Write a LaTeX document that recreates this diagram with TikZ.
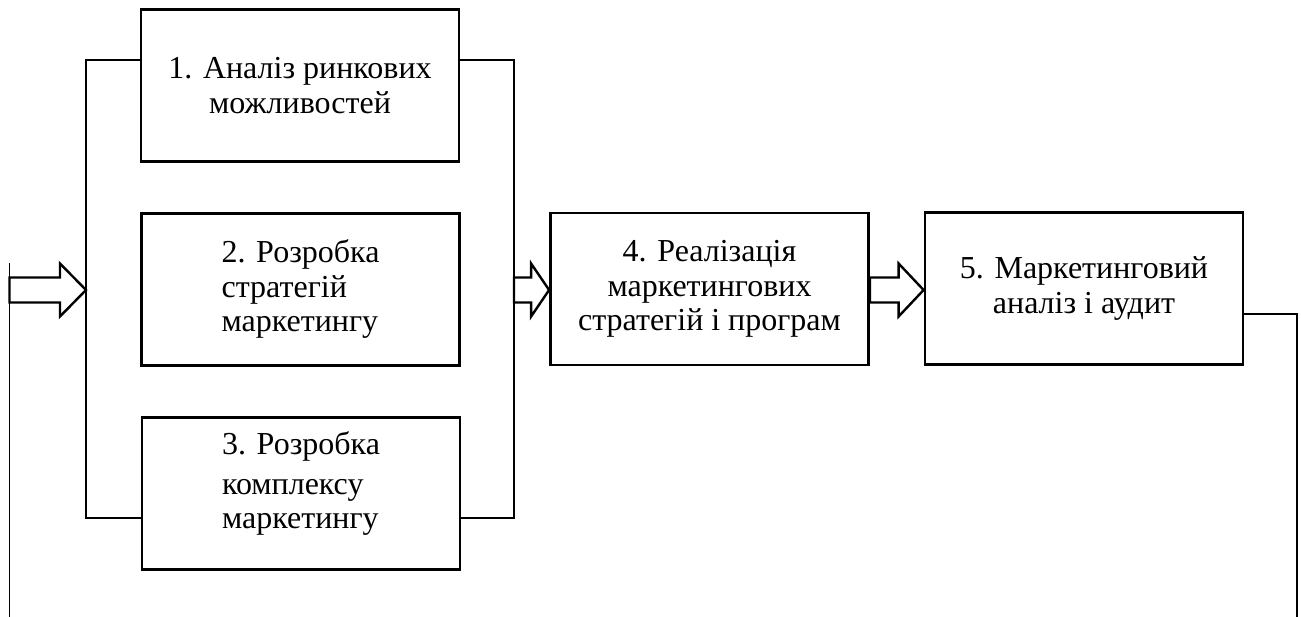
\documentclass[tikz,border=0pt]{standalone}
\usepackage{fontspec}
\setmainfont{Liberation Serif}
\usetikzlibrary{calc}
\tikzset{
  blk/.style={draw=black, line width=2.8pt, minimum width=318pt, minimum height=152pt,
    inner sep=0pt, align=center, font=\fontsize{32}{34.5}\selectfont},
  blkl/.style={blk, align=left},
  txt/.style={inner sep=0pt, align=left, font=\fontsize{32}{34.5}\selectfont},
  brk/.style={draw=black, line width=2.2pt},
  fb/.style={draw=black, line width=1.8pt},
  fbthin/.style={draw=black, line width=1.2pt},
  harrow/.style={draw=black, line width=2.4pt, line join=miter, fill=white}
}
\newcommand{\hollowarrow}[3]{%
  \path[harrow] let \p1=(#1), \p2=(#2) in
    (\x1,\y2+12.5pt) -- (\x2-#3,\y2+12.5pt) -- (\x2-#3,\y2+26.5pt) -- (\x2,\y2)
    -- (\x2-#3,\y2-26.5pt) -- (\x2-#3,\y2-12.5pt) -- (\x1,\y2-12.5pt) -- cycle;}
\begin{document}
\begin{tikzpicture}[x=1pt,y=-1pt]
  \useasboundingbox (0,0) rectangle (1301,617);
  \node[blk]  (b1) at (300,85.5)   {1. Аналіз ринкових\\можливостей};
  \node[blkl] (b2) at (300.5,289.5) {2. Розробка\\стратегій\\маркетингу};
  \node[blk]  (b3) at (301,493.5)  {};
  \node[txt]  (t3) at ($(b3.center)+(0,-10)$) {3. Розробка\\[5pt]комплексу\\маркетингу};
  \node[blk]  (b4) at (709.5,289)  {4. Реалізація\\маркетингових\\стратегій і програм};
  \node[blk]  (b5) at (1084,288.5) {5. Маркетинговий\\аналіз і аудит};
  \coordinate (lt) at (86,60);
  \coordinate (lb) at (86,518);
  \coordinate (rt) at (514,60);
  \coordinate (rb) at (514,518);
  \coordinate (m) at (86,290);
  \coordinate (ftop) at (9.5,263);
  \coordinate (fbot) at (9.5,617);
  \coordinate (rcorner) at (1297,314);
  \coordinate (rbot) at (1297,617);
  % brackets
  \draw[brk] (b1.west |- lt) -- (lt) -- (lb) -- (b3.west |- lb);
  \draw[brk] (b1.east |- rt) -- (rt) -- (rb) -- (b3.east |- rb);
  % feedback lines
  \draw[fb] (ftop) -- (fbot);
  \draw[fbthin] (b5.east |- rcorner) -- (rcorner) -- (rbot);
  % hollow arrows
  \hollowarrow{ftop |- m}{m}{26pt}
  \hollowarrow{rt |- m}{b4.west |- m}{18pt}
  \hollowarrow{b4.east |- m}{b5.west |- m}{25pt}
\end{tikzpicture}
\end{document}
